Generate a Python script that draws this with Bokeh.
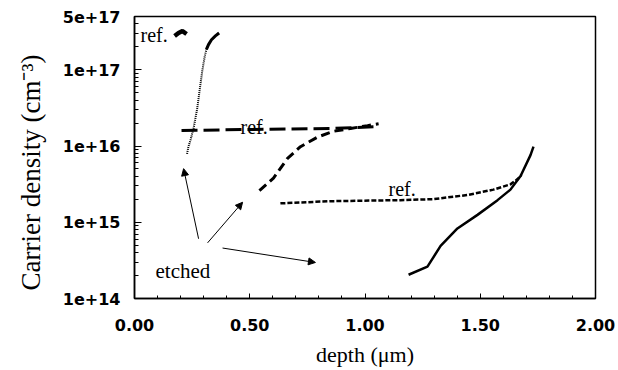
import math
from bokeh.plotting import figure
from bokeh.models import (Range1d, FixedTicker, NumeralTickFormatter, CustomJSTickFormatter,
                          Title, Arrow, NormalHead)
from bokeh.core.properties import value
from bokeh.embed import file_html
from bokeh.resources import INLINE

# ---------------- data ----------------
# reference profile, top-left (thick short segment)
ref1_x = [0.174, 0.191, 0.208, 0.226]
ref1_y = [2.78e17, 3.04e17, 3.22e17, 2.95e17]

# etched profile 1 (dotted)
etch1_x = [0.228, 0.234, 0.243, 0.257, 0.272, 0.283, 0.294, 0.304, 0.312, 0.321, 0.334, 0.351, 0.367]
etch1_y = [7.9e15, 9.8e15, 1.2e16, 1.75e16, 3.1e16, 5.5e16, 9.7e16, 1.46e17, 1.85e17, 2.14e17, 2.48e17, 2.78e17, 3.04e17]

# reference profile 2 (long dash)
ref2_x = [0.204, 0.503, 0.850, 1.059]
ref2_y = [1.60e16, 1.65e16, 1.70e16, 1.80e16]

# etched profile 2 (medium dash)
etch2_x = [0.542, 0.603, 0.664, 0.720, 0.794, 0.863, 0.937, 1.011, 1.059]
etch2_y = [2.6e15, 3.8e15, 6.9e15, 9.8e15, 1.31e16, 1.56e16, 1.70e16, 1.85e16, 1.96e16]

# reference profile 3 (short dash)
ref3_x = [0.633, 0.850, 1.154, 1.297, 1.445, 1.557, 1.631, 1.662, 1.679]
ref3_y = [1.77e15, 1.89e15, 1.95e15, 2.01e15, 2.28e15, 2.68e15, 3.14e15, 3.68e15, 4.18e15]

# etched profile 3 (solid)
etch3_x = [1.189, 1.271, 1.328, 1.401, 1.488, 1.575, 1.631, 1.675, 1.718, 1.731]
etch3_y = [2.05e14, 2.62e14, 4.89e14, 8.3e14, 1.25e15, 1.95e15, 2.68e15, 4.04e15, 7.6e15, 9.8e15]

x_ticks = [0.0, 0.5, 1.0, 1.5, 2.0]
y_ticks = [1e14, 1e15, 1e16, 1e17, 5e17]

ref_labels = ["ref.", "ref.", "ref."]
ref_label_x = [0.026, 0.460, 1.102]
ref_label_y = [2.87e17, 1.75e16, 2.76e15]

etched_label = "etched"
etched_x = 0.091
etched_y = 2.32e14

arrow_x_start = [0.278, 0.317, 0.382]
arrow_y_start = [6.08e14, 5.37e14, 4.59e14]
arrow_x_end = [0.213, 0.469, 0.785]
arrow_y_end = [5.05e15, 1.83e15, 2.97e14]

x_label = "depth (\u03bcm)"
y_label = "Carrier density (cm\u207b\u00b3)"

# ---------------- figure ----------------
p = figure(width=618, height=370, output_backend="svg", toolbar_location=None,
           x_range=Range1d(0, 2), y_range=Range1d(1e14, 5e17), y_axis_type="log",
           min_border_left=134, min_border_right=23, min_border_top=16, min_border_bottom=72,
           background_fill_color="white", border_fill_color="white")
p.grid.visible = False
p.outline_line_color = "black"
p.outline_line_width = 1.5

minor_x = [round(0.1 * i, 1) for i in range(1, 20) if i % 5 != 0]
p.xaxis.ticker = FixedTicker(ticks=x_ticks, minor_ticks=minor_x)
p.xaxis.formatter = NumeralTickFormatter(format="0.00")
minor_y = [m * 10 ** e for e in range(14, 17) for m in range(2, 10)] + [2e17, 3e17, 4e17]
p.yaxis.ticker = FixedTicker(ticks=y_ticks, minor_ticks=minor_y)
p.yaxis.formatter = CustomJSTickFormatter(code="return tick.toExponential(0);")

for ax in (p.xaxis[0], p.yaxis[0]):
    ax.axis_line_color = "black"
    ax.axis_line_width = 1.5
    ax.major_tick_in = 5
    ax.major_tick_out = 0
    ax.minor_tick_in = 3
    ax.minor_tick_out = 0
    ax.major_tick_line_color = "black"
    ax.minor_tick_line_color = "black"
    ax.major_label_text_font = "DejaVu Sans"
    ax.major_label_text_font_style = "bold"
    ax.major_label_text_font_size = "16px"
    ax.major_label_text_color = "black"
p.yaxis.major_tick_in = 7
p.yaxis.minor_tick_in = 4
p.xaxis.major_label_standoff = 20
p.yaxis.major_label_standoff = 14

p.xaxis.axis_label = x_label
p.xaxis.axis_label_text_font = "Liberation Serif"
p.xaxis.axis_label_text_font_style = "normal"
p.xaxis.axis_label_text_font_size = "22px"
p.xaxis.axis_label_text_color = "black"
p.xaxis.axis_label_standoff = 8

# y-axis label as a left-side title (sits lower than the frame centre in the reference)
p.add_layout(Title(text=y_label, align="left", offset=8, standoff=27,
                   text_font="Liberation Serif", text_font_size="27px",
                   text_font_style="normal", text_color="black"), "left")

# ---------------- curves ----------------
p.line(ref1_x, ref1_y, line_color="black", line_width=4.5)
p.line(etch1_x, etch1_y, line_color="black", line_width=2, line_dash="1 1")
p.line(etch1_x[-5:], etch1_y[-5:], line_color="black", line_width=3)
p.line(ref2_x, ref2_y, line_color="black", line_width=3, line_dash="16 6")
p.line(etch2_x, etch2_y, line_color="black", line_width=3, line_dash="9 5")
p.line(ref3_x, ref3_y, line_color="black", line_width=2.5, line_dash="5 2")
p.line(etch3_x, etch3_y, line_color="black", line_width=2.5)

# ---------------- annotations ----------------
p.text(x=ref_label_x, y=ref_label_y, text=ref_labels, text_align="left", text_baseline="alphabetic",
       text_font=value("Liberation Serif"), text_font_size="20px", text_color="black")
p.text(x=[etched_x], y=[etched_y], text=[etched_label], text_align="left", text_baseline="alphabetic",
       text_font=value("Liberation Serif"), text_font_size="21px", text_color="black")

for xs, ys, xe, ye in zip(arrow_x_start, arrow_y_start, arrow_x_end, arrow_y_end):
    p.add_layout(Arrow(end=NormalHead(size=7, fill_color="black", line_color="black", line_width=1),
                       x_start=xs, y_start=ys, x_end=xe, y_end=ye,
                       line_color="black", line_width=1))

open("out.html", "w").write(file_html(p, INLINE))
